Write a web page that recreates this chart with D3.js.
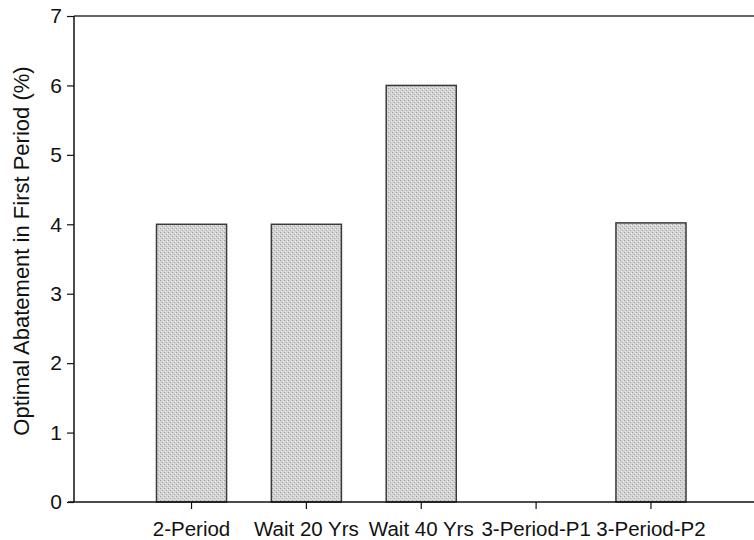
<!DOCTYPE html>
<html>
<head>
<meta charset="utf-8">
<script src="https://cdn.jsdelivr.net/npm/d3@7"></script>
<style>
  html, body { margin: 0; padding: 0; background: #fff; }
  svg { display: block; }
  text { font-family: "Liberation Sans", Arial, Helvetica, sans-serif; fill: #111; }
</style>
</head>
<body>
<svg id="chart" width="754" height="540"></svg>
<script>
const categories = ["2-Period", "Wait 20 Yrs", "Wait 40 Yrs", "3-Period-P1", "3-Period-P2"];
const values = [4.0, 4.0, 6.0, 0.0, 4.02];
const yTicks = [0, 1, 2, 3, 4, 5, 6, 7];
const yTitle = "Optimal Abatement in First Period (%)";

const W = 754, H = 540;
const plot = { left: 74, right: 754, top: 16, bottom: 502 };

const svg = d3.select("#chart");

const defs = svg.append("defs");
const pat = defs.append("pattern")
  .attr("id", "stipple").attr("patternUnits", "userSpaceOnUse")
  .attr("width", 4).attr("height", 4);
pat.append("rect").attr("width", 4).attr("height", 4).attr("fill", "#d3d3d3");
pat.append("rect").attr("x", 0).attr("y", 0).attr("width", 1).attr("height", 1).attr("fill", "#a0a0a0");
pat.append("rect").attr("x", 2).attr("y", 2).attr("width", 1).attr("height", 1).attr("fill", "#aeaeae");
pat.append("rect").attr("x", 3).attr("y", 1).attr("width", 1).attr("height", 1).attr("fill", "#ececec");
pat.append("rect").attr("x", 1).attr("y", 3).attr("width", 1).attr("height", 1).attr("fill", "#e8e8e8");

const y = d3.scaleLinear().domain([0, 7]).range([plot.bottom, plot.top]);

const x = d3.scaleBand()
  .domain(categories)
  .range([156.5, 686])
  .paddingInner(0.39)
  .paddingOuter(0);

// top border line
svg.append("line")
  .attr("x1", plot.left).attr("x2", plot.right)
  .attr("y1", plot.top).attr("y2", plot.top)
  .attr("stroke", "#333").attr("stroke-width", 1.5);

// bars
svg.append("g").selectAll("rect")
  .data(categories.map((c, i) => ({ c, v: values[i] })).filter(d => d.v > 0))
  .join("rect")
  .attr("x", d => x(d.c))
  .attr("width", x.bandwidth())
  .attr("y", d => y(d.v))
  .attr("height", d => y(0) - y(d.v))
  .attr("fill", "url(#stipple)")
  .attr("stroke", "#3a3a3a")
  .attr("stroke-width", 1.5);

// y axis
const yAxis = svg.append("g")
  .attr("transform", `translate(${plot.left},0)`)
  .call(d3.axisLeft(y).tickValues(yTicks).tickFormat(d3.format("d")).tickSize(7).tickPadding(5));
yAxis.select(".domain").attr("stroke", "#111").attr("stroke-width", 1.5).attr("d", `M0,${plot.top}V${plot.bottom}`);
yAxis.selectAll(".tick line").attr("stroke", "#111").attr("stroke-width", 1.2);
yAxis.selectAll(".tick text").attr("font-size", 21).style("fill", "#111");

// x axis
const xAxis = svg.append("g")
  .attr("transform", `translate(0,${plot.bottom})`)
  .call(d3.axisBottom(x).tickSize(7).tickPadding(12));
xAxis.select(".domain").attr("stroke", "#111").attr("stroke-width", 1.5).attr("d", `M${plot.left - 6},0H${plot.right}`);
xAxis.selectAll(".tick line").attr("stroke", "#111").attr("stroke-width", 1.2);
xAxis.selectAll(".tick text").attr("font-size", 20.5).style("fill", "#111");

// y title
svg.append("text")
  .attr("transform", `translate(29,251) rotate(-90)`)
  .attr("text-anchor", "middle")
  .attr("font-size", 22)
  .text(yTitle);
</script>
</body>
</html>
